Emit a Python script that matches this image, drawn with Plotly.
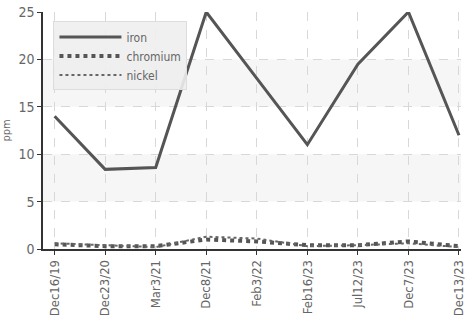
import plotly.graph_objects as go

dates = ["Dec16/19", "Dec23/20", "Mar3/21", "Dec8/21", "Feb3/22", "Feb16/23", "Jul12/23", "Dec7/23", "Dec13/23"]
iron = [14, 8.4, 8.6, 25, 18, 11, 19.5, 25, 12]
chromium = [0.5, 0.3, 0.3, 1.0, 0.8, 0.4, 0.4, 0.8, 0.3]
nickel = [0.6, 0.4, 0.2, 1.3, 1.1, 0.3, 0.4, 0.6, 0.2]
yticks = [0, 5, 10, 15, 20, 25]

x = list(range(len(dates)))
fig = go.Figure()
fig.add_trace(go.Scatter(x=x, y=iron, name="iron", mode="lines",
                         line=dict(color="#555555", width=3)))
fig.add_trace(go.Scatter(x=x, y=chromium, name="chromium", mode="lines",
                         line=dict(color="#555555", width=4, dash="dot")))
fig.add_trace(go.Scatter(x=x, y=nickel, name="nickel", mode="lines",
                         line=dict(color="#666666", width=2, dash="dot")))

for lo, hi in [(5, 10), (15, 20)]:
    fig.add_shape(type="rect", xref="paper", yref="y", x0=0, x1=1, y0=lo, y1=hi,
                  fillcolor="#f6f6f6", line=dict(width=0), layer="below")

font = dict(family="Liberation Sans Narrow, DejaVu Sans Condensed, sans-serif", color="#666666")
fig.update_layout(
    width=469, height=319,
    margin=dict(l=42, r=3, t=12, b=67),
    plot_bgcolor="white", paper_bgcolor="white",
    font=dict(size=12, **font),
    showlegend=True,
    legend=dict(x=0.025, y=0.96, xanchor="left", yanchor="top",
                bgcolor="rgba(238,238,238,0.9)", bordercolor="#dddddd", borderwidth=1,
                font=dict(size=12, **font), itemwidth=62, tracegroupgap=0),
    xaxis=dict(range=[-0.23, 8.04], tickmode="array", tickvals=x, ticktext=dates,
               tickangle=-90, showgrid=True, gridcolor="#d8d8d8", griddash="dash",
               showline=True, linecolor="#333333", linewidth=1.5,
               ticks="outside", ticklen=4, tickcolor="#333333", zeroline=False,
               ticklabeloverflow="allow",
               tickfont=dict(size=13, **font)),
    yaxis=dict(range=[0, 25], tickmode="array", tickvals=yticks,
               showgrid=True, gridcolor="#d8d8d8", griddash="dash",
               showline=True, linecolor="#333333", linewidth=1.5,
               ticks="outside", ticklen=4, tickcolor="#333333", zeroline=False,
               ticklabeloverflow="allow",
               title=dict(text="ppm", font=dict(size=11, **font), standoff=8),
               tickfont=dict(size=14, **font)),
)
fig.write_html("out.html", config={"displayModeBar": False},
               post_script="document.body.style.margin='0';document.body.style.overflow='hidden';")
